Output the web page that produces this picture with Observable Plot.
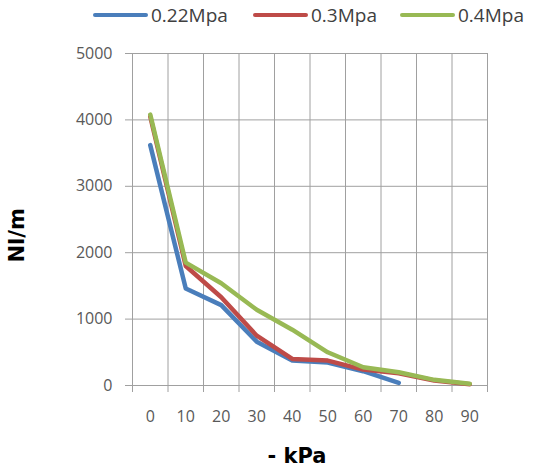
<!DOCTYPE html>
<html>
<head>
<meta charset="utf-8">
<script src="https://cdn.jsdelivr.net/npm/d3@7"></script>
<script src="https://cdn.jsdelivr.net/npm/@observablehq/plot@0.6"></script>
<style>
  body { margin: 0; background: #fff; }
  #wrap { width: 533px; }
  #legend { position: relative; height: 30px; font-family: "Open Sans", sans-serif; font-size: 19px; color: #404040; }
  .item { position: absolute; top: 0; height: 30px; display: flex; align-items: center; white-space: nowrap; }
  .sw { width: 55px; height: 4.5px; border-radius: 3px; margin-right: 3px; }
</style>
</head>
<body>
<div id="wrap">
  <div id="legend"></div>
  <div id="chart"></div>
</div>
<script>
// Data
const kpa = [0, 10, 20, 30, 40, 50, 60, 70, 80, 90];
const s022 = [3620, 1460, 1210, 660, 375, 345, 215, 40];
const s03  = [4050, 1800, 1330, 750, 400, 375, 240, 185, 75, 20];
const s04  = [4080, 1850, 1540, 1140, 840, 500, 275, 200, 85, 25];
const seriesNames = ["0.22Mpa", "0.3Mpa", "0.4Mpa"];
const seriesColors = ["#4A7EBB", "#BE4B48", "#98B954"];
const yTicks = [0, 1000, 2000, 3000, 4000, 5000];
const xBounds = [-5, 5, 15, 25, 35, 45, 55, 65, 75, 85, 95];

const table = [];
[s022, s03, s04].forEach((vals, i) => {
  vals.forEach((v, j) => table.push({series: seriesNames[i], x: kpa[j], y: v}));
});

// legend
const legendLeft = [93, 253, 400];
const legend = document.getElementById("legend");
seriesNames.forEach((name, i) => {
  const it = document.createElement("div");
  it.className = "item";
  it.style.left = legendLeft[i] + "px";
  it.innerHTML = `<span class="sw" style="background:${seriesColors[i]}"></span><span>${name}</span>`;
  legend.appendChild(it);
});

const grid = "#a0a0a0";
const txt = "#595959";

const chart = Plot.plot({
  width: 533,
  height: 439,
  marginTop: 23,
  marginBottom: 84,
  marginLeft: 132,
  marginRight: 46,
  style: {fontFamily: "'Open Sans', sans-serif", fontSize: "16px", color: txt, background: "#fff"},
  x: {domain: [-5, 95], axis: null},
  y: {domain: [0, 5000], axis: null},
  color: {domain: seriesNames, range: seriesColors},
  marks: [
    Plot.ruleY(yTicks, {stroke: grid, strokeWidth: 1}),
    Plot.ruleX(xBounds, {stroke: grid, strokeWidth: 1}),
    Plot.axisY({ticks: yTicks, tickSize: 7, tickPadding: 13, tickFormat: d => String(d), stroke: grid, fill: txt, label: null, fontSize: 16}),
    Plot.axisX({ticks: xBounds, tickSize: 7, tickFormat: () => "", stroke: grid, label: null}),
    Plot.axisX({ticks: kpa, tickSize: 0, tickPadding: 25, tickFormat: d => String(d), fill: txt, label: null, fontSize: 16}),
    Plot.line(table, {x: "x", y: "y", z: "series", stroke: "series", strokeWidth: 4.5, strokeLinejoin: "round", strokeLinecap: "round"}),
    Plot.text(["Nl/m"], {text: d => d, frameAnchor: "left", dx: -115, dy: 43, rotate: -90, fontSize: 21, fontWeight: "bold", fontFamily: "DejaVu Sans", fill: "#000"}),
    Plot.text(["- kPa"], {text: d => d, frameAnchor: "bottom", dx: -13, dy: 77, fontSize: 21, fontWeight: "bold", fontFamily: "DejaVu Sans", fill: "#000"})
  ]
});
document.getElementById("chart").appendChild(chart);
</script>
</body>
</html>
